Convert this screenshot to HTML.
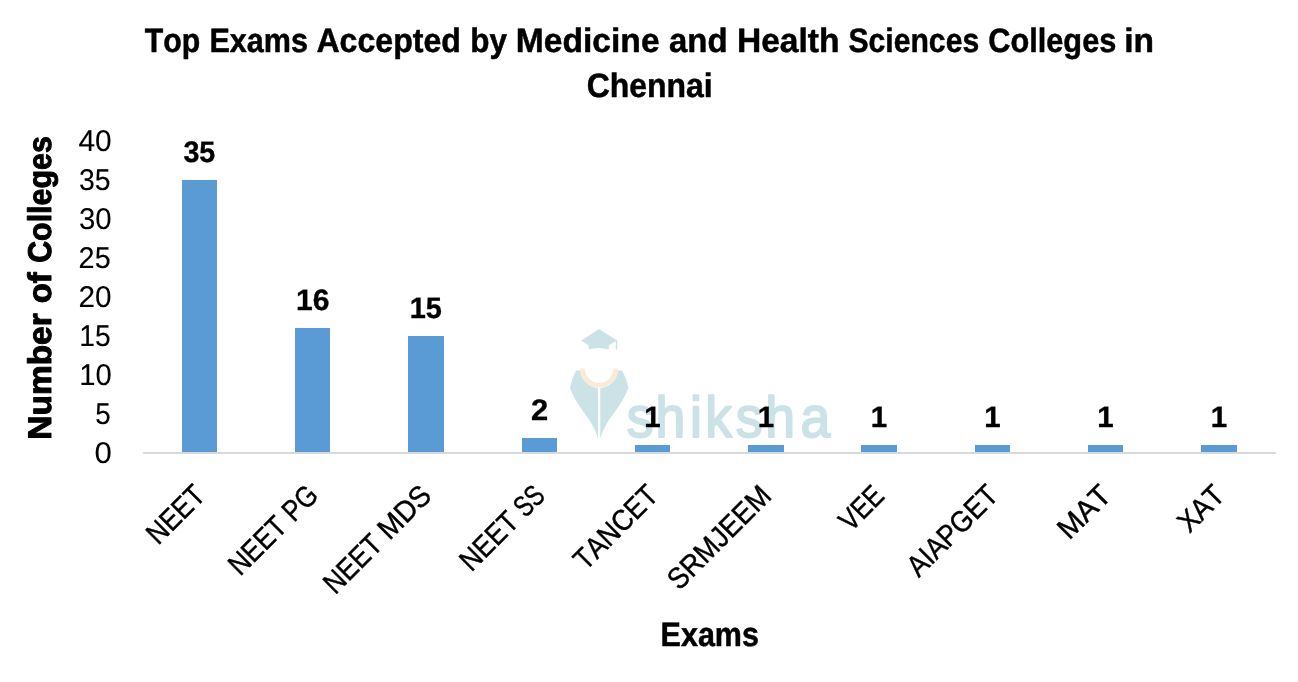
<!DOCTYPE html>
<html lang="en">
<head>
<meta charset="utf-8">
<title>Top Exams Accepted by Medicine and Health Sciences Colleges in Chennai</title>
<style>
html,body{margin:0;padding:0;background:#fff;}
body{width:1298px;height:682px;overflow:hidden;}
svg{display:block;}
text{font-family:"Liberation Sans",sans-serif;fill:#000;font-kerning:none;text-rendering:geometricPrecision;stroke:#000;stroke-width:0;stroke-linejoin:round;}
.t{font-weight:700;stroke-width:0.5px;}
.v{font-weight:700;stroke-width:1px;}
.d{font-weight:700;stroke-width:0.35px;}
.y{stroke-width:0.1px;}
.x{stroke-width:0.45px;}
.wm{fill:#cbe3e6;stroke:#cbe3e6;stroke-width:2px;stroke-linejoin:round;}
</style>
</head>
<body>
<svg width="1298" height="682" viewBox="0 0 1298 682">
<rect x="0" y="0" width="1298" height="682" fill="#ffffff"/>

<g id="watermark">
<path d="M599 329 L617.2 340.4 L617.2 349.4 L615.8 349.4 L615.8 341.3 L608.7 345.4 L608.7 349.6 Q599 346.4 588.7 349.6 L588.7 345.4 L581.2 340.4 Z" fill="#cbe3e6"/>
<path d="M580.1 368.6 A19 19 0 0 0 618.1 368.6 L613.4 368.6 A14.3 14.3 0 0 1 584.8 368.6 Z" fill="#fdead5"/>
<path d="M576.1 370.4 L580.2 370.4 A19 19 0 0 0 598.0 387.9 L598.0 438.4 Q595 427 583.6 412 Q574.4 400 569.9 387.6 Q572.2 378 576.1 370.4 Z" fill="#cbe3e6"/>
<path d="M622.3 370.4 L618 370.4 A19 19 0 0 1 600.3 387.9 L600.3 438.4 Q603.2 427 614.6 412 Q624 400 628.5 387.6 Q626.2 378 622.3 370.4 Z" fill="#cbe3e6"/>
<text transform="scale(0.930 1)" x="673.82 704.74 741.85 758.32 791.02 822.81 860.85" y="437.2" font-size="57.5" class="wm">shiksha</text>
</g>
<g id="title">
<text y="51.90" font-size="33.80" class="t"><tspan x="144.81" textLength="55.48" lengthAdjust="spacingAndGlyphs">Top</tspan> <tspan x="209.40" textLength="98.60" lengthAdjust="spacingAndGlyphs">Exams</tspan> <tspan x="316.45" textLength="144.41" lengthAdjust="spacingAndGlyphs">Accepted</tspan> <tspan x="470.17" textLength="36.74" lengthAdjust="spacingAndGlyphs">by</tspan> <tspan x="515.80" textLength="143.80" lengthAdjust="spacingAndGlyphs">Medicine</tspan> <tspan x="668.99" textLength="58.53" lengthAdjust="spacingAndGlyphs">and</tspan> <tspan x="736.90" textLength="102.63" lengthAdjust="spacingAndGlyphs">Health</tspan> <tspan x="848.38" textLength="130.81" lengthAdjust="spacingAndGlyphs">Sciences</tspan> <tspan x="988.29" textLength="128.02" lengthAdjust="spacingAndGlyphs">Colleges</tspan> <tspan x="1124.31" textLength="29.82" lengthAdjust="spacingAndGlyphs">in</tspan></text>
<text x="586.64" y="96.60" font-size="33.80" class="t" textLength="126.07" lengthAdjust="spacingAndGlyphs">Chennai</text>
</g>
<g id="ytitle" transform="translate(50.6 439.4) rotate(-90)">
<text y="0.00" font-size="32.80" class="v"><tspan x="-0.24" textLength="126.34" lengthAdjust="spacingAndGlyphs">Number</tspan> <tspan x="136.12" textLength="31.02" lengthAdjust="spacingAndGlyphs">of</tspan> <tspan x="176.55" textLength="126.69" lengthAdjust="spacingAndGlyphs">Colleges</tspan></text>
</g>
<g id="xtitle">
<text x="660.61" y="645.50" font-size="33.80" class="t" textLength="98.29" lengthAdjust="spacingAndGlyphs">Exams</text>
</g>
<g id="yticks">
<text x="94.44" y="462.60" font-size="30.00" class="y" textLength="17.29" lengthAdjust="spacingAndGlyphs">0</text>
<text x="95.17" y="423.60" font-size="30.00" class="y" textLength="15.45" lengthAdjust="spacingAndGlyphs">5</text>
<text x="79.15" y="384.60" font-size="30.00" class="y" textLength="32.51" lengthAdjust="spacingAndGlyphs">10</text>
<text x="79.23" y="345.60" font-size="30.00" class="y" textLength="31.42" lengthAdjust="spacingAndGlyphs">15</text>
<text x="78.55" y="306.60" font-size="30.00" class="y" textLength="33.13" lengthAdjust="spacingAndGlyphs">20</text>
<text x="78.60" y="267.60" font-size="30.00" class="y" textLength="32.07" lengthAdjust="spacingAndGlyphs">25</text>
<text x="78.98" y="228.60" font-size="30.00" class="y" textLength="32.69" lengthAdjust="spacingAndGlyphs">30</text>
<text x="79.01" y="189.60" font-size="30.00" class="y" textLength="31.64" lengthAdjust="spacingAndGlyphs">35</text>
<text x="78.47" y="150.60" font-size="30.00" class="y" textLength="33.21" lengthAdjust="spacingAndGlyphs">40</text>
</g>
<g id="bars" fill="#5b9bd5">
<rect x="182" y="180" width="35" height="273"/>
<rect x="295" y="328" width="35" height="125"/>
<rect x="408" y="336" width="36" height="117"/>
<rect x="522" y="438" width="35" height="15"/>
<rect x="635" y="445" width="35" height="8"/>
<rect x="748" y="445" width="36" height="8"/>
<rect x="861" y="445" width="36" height="8"/>
<rect x="975" y="445" width="35" height="8"/>
<rect x="1088" y="445" width="35" height="8"/>
<rect x="1201" y="445" width="36" height="8"/>
</g>
<rect x="143.2" y="452" width="1132.6" height="2" fill="#d9d9d9"/>
<g id="datalabels">
<text x="183.38" y="161.80" font-size="29.60" class="d" textLength="31.93" lengthAdjust="spacingAndGlyphs">35</text>
<text x="296.10" y="309.80" font-size="29.60" class="d" textLength="33.42" lengthAdjust="spacingAndGlyphs">16</text>
<text x="409.68" y="317.80" font-size="29.60" class="d" textLength="32.15" lengthAdjust="spacingAndGlyphs">15</text>
<text x="530.97" y="419.80" font-size="29.60" class="d" textLength="17.19" lengthAdjust="spacingAndGlyphs">2</text>
<text x="644.25" y="426.80" font-size="29.60" class="d" textLength="16.40" lengthAdjust="spacingAndGlyphs">1</text>
<text x="757.75" y="426.80" font-size="29.60" class="d" textLength="16.40" lengthAdjust="spacingAndGlyphs">1</text>
<text x="870.75" y="426.80" font-size="29.60" class="d" textLength="16.40" lengthAdjust="spacingAndGlyphs">1</text>
<text x="984.25" y="426.80" font-size="29.60" class="d" textLength="16.40" lengthAdjust="spacingAndGlyphs">1</text>
<text x="1097.25" y="426.80" font-size="29.60" class="d" textLength="16.40" lengthAdjust="spacingAndGlyphs">1</text>
<text x="1210.75" y="426.80" font-size="29.60" class="d" textLength="16.40" lengthAdjust="spacingAndGlyphs">1</text>
</g>
<g id="xlabels">
<g transform="translate(206.8 497.2) rotate(-45)">
<text x="-68.57" y="0.00" font-size="29.70" class="x" textLength="68.56" lengthAdjust="spacingAndGlyphs">NEET</text>
</g>
<g transform="translate(319.8 497.2) rotate(-45)">
<text y="0.00" font-size="29.70" class="x"><tspan x="-112.57" textLength="68.56" lengthAdjust="spacingAndGlyphs">NEET</tspan> <tspan x="-36.55" textLength="36.55" lengthAdjust="spacingAndGlyphs">PG</tspan></text>
</g>
<g transform="translate(433.3 497.2) rotate(-45)">
<text y="0.00" font-size="29.70" class="x"><tspan x="-138.59" textLength="69.08" lengthAdjust="spacingAndGlyphs">NEET</tspan> <tspan x="-61.90" textLength="61.82" lengthAdjust="spacingAndGlyphs">MDS</tspan></text>
</g>
<g transform="translate(546.8 497.2) rotate(-45)">
<text y="0.00" font-size="29.70" class="x"><tspan x="-106.59" textLength="69.24" lengthAdjust="spacingAndGlyphs">NEET</tspan> <tspan x="-30.22" textLength="29.89" lengthAdjust="spacingAndGlyphs">SS</tspan></text>
</g>
<g transform="translate(659.8 497.2) rotate(-45)">
<text x="-104.99" y="0.00" font-size="29.70" class="x" textLength="104.99" lengthAdjust="spacingAndGlyphs">TANCET</text>
</g>
<g transform="translate(773.3 497.2) rotate(-45)">
<text x="-133.15" y="0.00" font-size="29.70" class="x" textLength="132.54" lengthAdjust="spacingAndGlyphs">SRMJEEM</text>
</g>
<g transform="translate(886.3 497.2) rotate(-45)">
<text x="-49.79" y="0.00" font-size="29.70" class="x" textLength="49.28" lengthAdjust="spacingAndGlyphs">VEE</text>
</g>
<g transform="translate(999.8 497.2) rotate(-45)">
<text x="-114.70" y="0.00" font-size="29.70" class="x" textLength="114.71" lengthAdjust="spacingAndGlyphs">AIAPGET</text>
</g>
<g transform="translate(1112.8 497.2) rotate(-45)">
<text x="-61.56" y="0.00" font-size="29.70" class="x" textLength="61.63" lengthAdjust="spacingAndGlyphs">MAT</text>
</g>
<g transform="translate(1226.3 497.2) rotate(-45)">
<text x="-52.21" y="0.00" font-size="29.70" class="x" textLength="52.22" lengthAdjust="spacingAndGlyphs">XAT</text>
</g>
</g>
</svg>
</body>
</html>
